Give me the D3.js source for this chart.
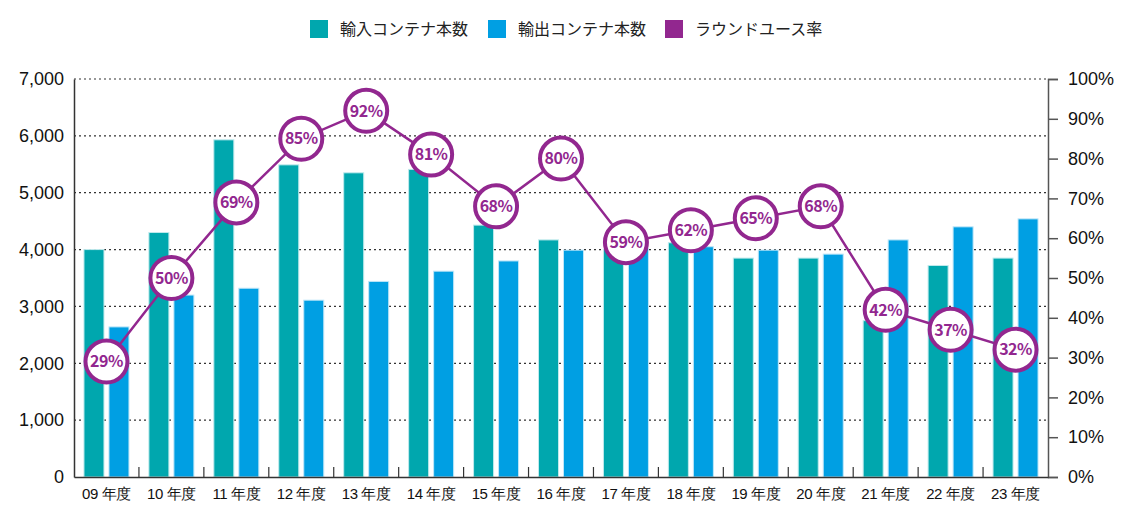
<!DOCTYPE html>
<html>
<head>
<meta charset="utf-8">
<script src="https://cdn.jsdelivr.net/npm/d3@7"></script>
<style>
  body { margin: 0; background: #fff; }
  svg { display: block; font-family: "Noto Sans CJK JP", "Noto Sans", sans-serif; }
</style>
</head>
<body>
<div id="chart"></div>
<script>
const categories = ['09 年度', '10 年度', '11 年度', '12 年度', '13 年度', '14 年度', '15 年度', '16 年度',
  '17 年度', '18 年度', '19 年度', '20 年度', '21 年度', '22 年度', '23 年度'];
const imports = [4000, 4300, 5930, 5490, 5350, 5410, 4430, 4170, 4000, 4120, 3850, 3850, 2750, 3720, 3850];
const exports = [2640, 3200, 3320, 3110, 3440, 3620, 3800, 3990, 4020, 4050, 3990, 3920, 4170, 4400, 4540];
const roundUse = [29, 50, 69, 85, 92, 81, 68, 80, 59, 62, 65, 68, 42, 37, 32];
const leftTicks = [0, 1000, 2000, 3000, 4000, 5000, 6000, 7000];
const rightTicks = [0, 10, 20, 30, 40, 50, 60, 70, 80, 90, 100];
const legendNames = ['輸入コンテナ本数', '輸出コンテナ本数', 'ラウンドユース率'];

const colors = { imp: '#00a7ae', exp: '#009fe3', rate: '#92278f' };

const W = 1130, H = 522;
const margin = { top: 79, right: 82, bottom: 45, left: 74 };
const width = W - margin.left - margin.right;
const height = H - margin.top - margin.bottom;

const svg = d3.select('#chart').append('svg')
  .attr('width', W).attr('height', H);

const g = svg.append('g').attr('transform', `translate(${margin.left},${margin.top})`);

const x = d3.scaleBand().domain(categories).range([0, width]);
const y = d3.scaleLinear().domain([0, 7000]).range([height, 0]);
const y2 = d3.scaleLinear().domain([0, 100]).range([height, 0]);

// grid
g.append('g').selectAll('line')
  .data(leftTicks.filter(d => d > 0))
  .join('line')
  .attr('x1', 0).attr('x2', width)
  .attr('y1', d => y(d)).attr('y2', d => y(d))
  .attr('stroke', '#333').attr('stroke-width', 1.2)
  .attr('stroke-dasharray', '2,3');

// bars
const barW = 20, gap = 5;
g.append('g').selectAll('rect')
  .data(imports)
  .join('rect')
  .attr('x', (d, i) => x(categories[i]) + x.bandwidth() / 2 - gap / 2 - barW)
  .attr('y', d => y(d))
  .attr('width', barW)
  .attr('height', d => height - y(d))
  .attr('fill', colors.imp)
  .attr('stroke', '#bfe9ec').attr('stroke-width', 1);

g.append('g').selectAll('rect')
  .data(exports)
  .join('rect')
  .attr('x', (d, i) => x(categories[i]) + x.bandwidth() / 2 + gap / 2)
  .attr('y', d => y(d))
  .attr('width', barW)
  .attr('height', d => height - y(d))
  .attr('fill', colors.exp)
  .attr('stroke', '#bfe6f8').attr('stroke-width', 1);

// left axis
const leftAxis = g.append('g')
  .call(d3.axisLeft(y).tickValues(leftTicks).tickSize(0).tickPadding(10).tickFormat(d3.format(',')));
leftAxis.select('.domain').attr('stroke', '#333').attr('stroke-width', 1.5);
leftAxis.selectAll('text').attr('font-size', 18).attr('font-weight', 500).attr('fill', '#111');

// right axis
const rightAxis = g.append('g')
  .attr('transform', `translate(${width},0)`)
  .call(d3.axisRight(y2).tickValues(rightTicks).tickSize(10).tickPadding(10).tickFormat(d => d + '%'));
rightAxis.select('.domain').attr('stroke', '#555').attr('stroke-width', 1.5);
rightAxis.selectAll('.tick line').attr('stroke', '#555').attr('stroke-width', 1.5);
rightAxis.selectAll('text').attr('font-size', 18).attr('font-weight', 500).attr('fill', '#111');

// bottom axis
const bottomAxis = g.append('g')
  .attr('transform', `translate(0,${height})`)
  .call(d3.axisBottom(x).tickSize(0).tickPadding(11));
bottomAxis.select('.domain').attr('stroke', '#333').attr('stroke-width', 1.5);
bottomAxis.selectAll('text').attr('font-size', 15).attr('font-weight', 500)
  .attr('letter-spacing', -0.4).attr('fill', '#111');

// inner tick marks between categories
g.append('g').selectAll('line')
  .data(categories.slice(1))
  .join('line')
  .attr('x1', d => x(d)).attr('x2', d => x(d))
  .attr('y1', height).attr('y2', height - 10)
  .attr('stroke', '#333').attr('stroke-width', 1.2);

// round-use line
const line = d3.line()
  .x((d, i) => x(categories[i]) + x.bandwidth() / 2)
  .y(d => y2(d));

g.append('path')
  .datum(roundUse)
  .attr('d', line)
  .attr('fill', 'none')
  .attr('stroke', colors.rate)
  .attr('stroke-width', 2.5);

const pts = g.append('g').selectAll('g')
  .data(roundUse)
  .join('g')
  .attr('transform', (d, i) => `translate(${x(categories[i]) + x.bandwidth() / 2},${y2(d)})`);

pts.append('circle')
  .attr('r', 21)
  .attr('fill', '#fff')
  .attr('stroke', colors.rate)
  .attr('stroke-width', 4);

pts.append('text')
  .attr('text-anchor', 'middle')
  .attr('dy', '0.36em')
  .attr('font-size', 16)
  .attr('font-weight', 700)
  .attr('letter-spacing', -0.5)
  .attr('fill', colors.rate)
  .text(d => d + '%');

// legend
const legendColors = [colors.imp, colors.exp, colors.rate];
const legendX = [310, 488, 665];
const legend = svg.append('g').selectAll('g')
  .data(legendNames)
  .join('g')
  .attr('transform', (d, i) => `translate(${legendX[i]},20)`);

legend.append('rect')
  .attr('width', 18).attr('height', 18)
  .attr('fill', (d, i) => legendColors[i]);

legend.append('text')
  .attr('x', 30).attr('y', 9)
  .attr('dy', '0.36em')
  .attr('font-size', 16)
  .attr('fill', '#222')
  .text(d => d);
</script>
</body>
</html>
